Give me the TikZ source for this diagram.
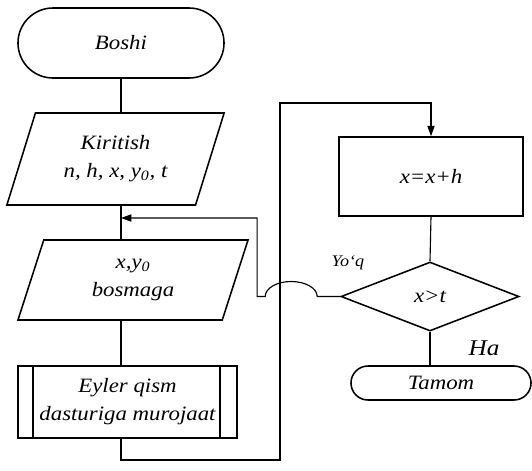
\documentclass[tikz,border=0pt]{standalone}
\usepackage{fontspec}
\setmainfont[FakeStretch=1.12]{Liberation Serif}
\usetikzlibrary{arrows.meta,shapes.geometric}

\begin{document}
\begin{tikzpicture}[x=0.025cm,y=-0.025cm,
    font=\fontsize{14.5}{20}\selectfont\itshape, line width=0.8pt,
    terminal/.style={draw, line width=1.1pt, rectangle, rounded corners=#1, align=center},
    iobox/.style={draw, line width=1.1pt, trapezium, trapezium left angle=60, trapezium right angle=120,
      trapezium stretches body, align=center, inner sep=1pt},
    procbox/.style={draw, line width=1.1pt, rectangle, align=center},
    subproc/.style={procbox, path picture={
      \draw ([xshift=0.375cm]path picture bounding box.north west) -- ([xshift=0.375cm]path picture bounding box.south west);
      \draw ([xshift=-0.425cm]path picture bounding box.north east) -- ([xshift=-0.425cm]path picture bounding box.south east);}},
    decision/.style={draw, line width=1.1pt, diamond, aspect=2.6, inner sep=0pt, align=center},
    flow/.style={line width=0.8pt},
    tip/.style={-{Triangle[length=2.6mm,width=1.8mm]}}]
  \useasboundingbox (0,0) rectangle (532,470);
  \coordinate (spine) at (121,0);
  \node[terminal=0.875cm, minimum width=5.15cm, minimum height=1.75cm] (boshi) at (121,43) {Boshi};
  \node[iobox, minimum width=5.43cm, minimum height=2.3cm] (kiritish) at (115.5,159)
    {Kiritish\\n, h, x, y\textsubscript{0}, t};
  \node[iobox, minimum width=5.75cm, minimum height=2cm] (bosma) at (133,280) {x,y\textsubscript{0}\\bosmaga};
  \node[subproc, minimum width=5.475cm, minimum height=1.8cm] (eyler) at (127.5,402)
    {Eyler qism\\dasturiga murojaat};
  \node[procbox, minimum width=4.6cm, minimum height=1.975cm] (qadam) at (431,176.5) {x=x+h};
  \node[decision, minimum width=4.45cm, minimum height=1.725cm] (shart) at (430,296.5) {x>t};
  \node[terminal=0.425cm, minimum width=4.5cm, minimum height=0.85cm] (tamom) at (441,383) {Tamom};
  \node[font=\fontsize{11.5}{13}\selectfont\itshape] (yoq) at (348,263) {Yo‘q};
  \node[font=\fontsize{16}{18}\selectfont\itshape] (ha) at (484,348) {Ha};
  \coordinate (join) at (121,218);
  \coordinate (loopB) at (280,460);
  \coordinate (loopT) at (280,103);
  \draw[flow] (spine |- boshi.south) -- (spine |- kiritish.north);
  \draw[flow] (spine |- kiritish.south) -- (spine |- bosma.north);
  \draw[flow] (spine |- bosma.south) -- (spine |- eyler.north);
  \draw[flow,tip] (spine |- eyler.south) |- (loopB) -- (loopT) -| (qadam.north);
  \draw[flow] (qadam.south) -- (shart.north);
  \draw[flow] (shart.south) -- (shart.south |- tamom.north);
  \draw[flow,tip] (shart.west) -- ++(-0.575cm,0) arc[start angle=0, end angle=180, x radius=0.65cm, y radius=0.375cm]
    -- ++(-0.2cm,0) |- (join);
\end{tikzpicture}
\end{document}
